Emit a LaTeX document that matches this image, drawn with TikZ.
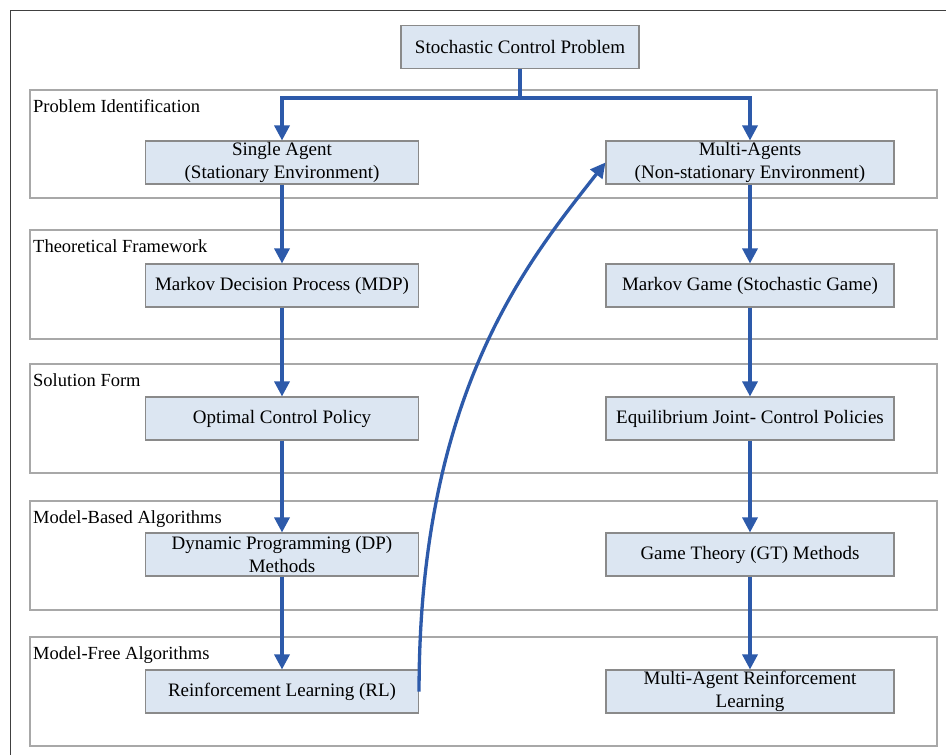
\documentclass[tikz,border=0pt]{standalone}
\usepackage{fontspec}
\setmainfont{Liberation Serif}
\usetikzlibrary{arrows.meta}
\definecolor{boxfill}{HTML}{DCE6F2}
\definecolor{boxline}{HTML}{8A8A8A}
\definecolor{bandline}{HTML}{A8A8A8}
\definecolor{arrblue}{HTML}{2D5AAA}
\tikzset{
  x=1pt, y=-1pt,
  stagebox/.style={draw=boxline, line width=1.1pt, fill=boxfill, minimum height=43pt,
    inner sep=0pt, align=center, font=\fontsize{19}{23}\selectfont},
  band/.style={draw=bandline, line width=1.4pt},
  bandlabel/.style={anchor=base west, inner sep=0pt, font=\fontsize{18.5}{22}\selectfont},
  arr/.style={draw=arrblue, line width=3.3pt, -{Triangle[width=15pt,length=15pt]}},
  plain/.style={draw=arrblue, line width=3.3pt}
}
\begin{document}
\begin{tikzpicture}
\useasboundingbox (0,0) rectangle (946,755);
\fill[white] (0,0) rectangle (946,755);
% outer frame (cropped)
\draw[draw=black!75, line width=1pt] (946,10) -- (10,10) -- (10,755);
% bands
\draw[band] (30,90) rectangle (937,198);
\draw[band] (30,230) rectangle (937,339);
\draw[band] (30,364) rectangle (937,473);
\draw[band] (30,501) rectangle (937,610);
\draw[band] (30,637) rectangle (937,746);
\node[bandlabel] (l1) at (33,112) {Problem Identification};
\node[bandlabel] (l2) at (33,252) {Theoretical Framework};
\node[bandlabel] (l3) at (33,386) {Solution Form};
\node[bandlabel] (l4) at (33,523) {Model-Based Algorithms};
\node[bandlabel] (l5) at (33,659) {Model-Free Algorithms};
% nodes
\node[stagebox, minimum width=238pt] (top) at (520,47) {Stochastic Control Problem};
\node[stagebox, minimum width=273pt] (sa) at (282,162.5) {Single Agent\\(Stationary Environment)};
\node[stagebox, minimum width=288pt] (ma) at (750,162.5) {Multi-Agents\\(Non-stationary Environment)};
\node[stagebox, minimum width=273pt] (mdp) at (282,285.5) {Markov Decision Process (MDP)};
\node[stagebox, minimum width=288pt] (mg) at (750,285.5) {Markov Game (Stochastic Game)};
\node[stagebox, minimum width=273pt] (ocp) at (282,418.5) {Optimal Control Policy};
\node[stagebox, minimum width=288pt] (eq) at (750,418.5) {Equilibrium Joint- Control Policies};
\node[stagebox, minimum width=273pt] (dp) at (282,554.5) {Dynamic Programming (DP)\\Methods};
\node[stagebox, minimum width=288pt] (gt) at (750,554.5) {Game Theory (GT) Methods};
\node[stagebox, minimum width=273pt] (rl) at (282,691.5) {Reinforcement Learning (RL)};
\node[stagebox, minimum width=288pt] (marl) at (750,691.5) {Multi-Agent Reinforcement\\Learning};
% connectors
\coordinate (j) at (520,98);
\draw[plain] (top.south) -- (j);
\draw[arr] (j) -| (sa.north);
\draw[arr] (j) -| (ma.north);
\draw[arr] (sa) -- (mdp);
\draw[arr] (mdp) -- (ocp);
\draw[arr] (ocp) -- (dp);
\draw[arr] (dp) -- (rl);
\draw[arr] (ma) -- (mg);
\draw[arr] (mg) -- (eq);
\draw[arr] (eq) -- (gt);
\draw[arr] (gt) -- (marl);
\draw[arr] (rl.east) .. controls (419,390) and (530,259) .. (ma.west);
\end{tikzpicture}
\end{document}
